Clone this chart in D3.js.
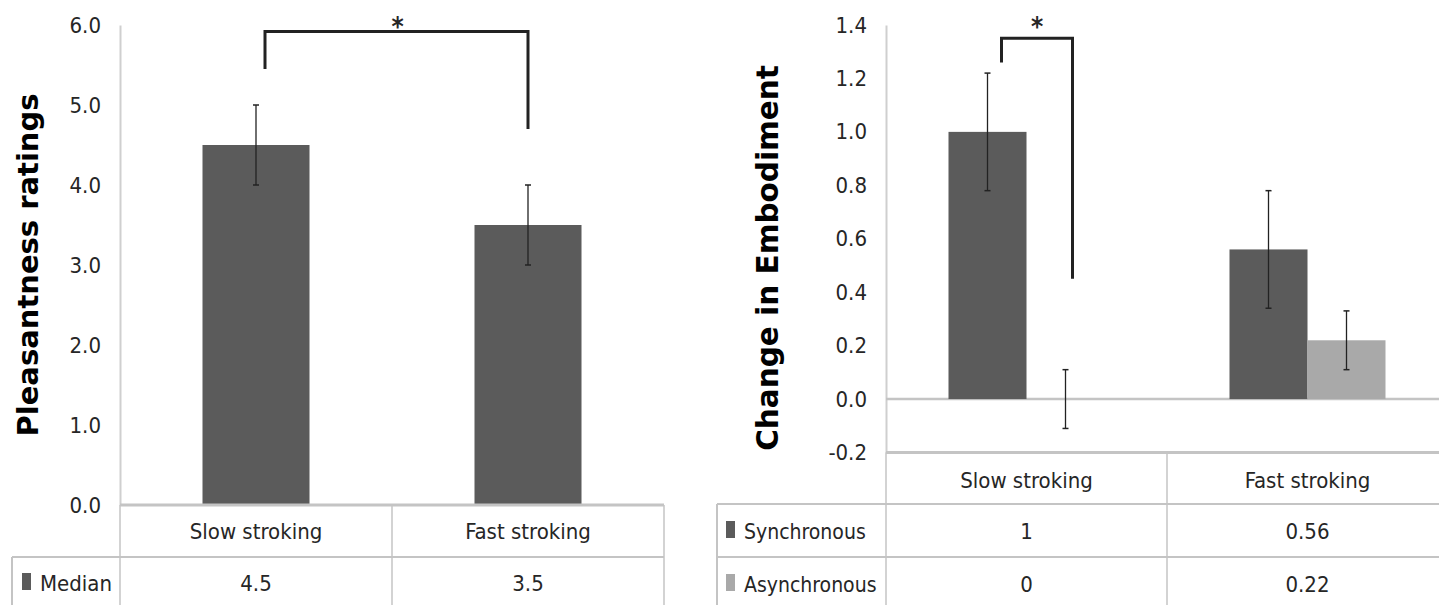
<!DOCTYPE html>
<html>
<head>
<meta charset="UTF-8" />
<script src="https://cdn.jsdelivr.net/npm/d3@7"></script>
<style>
  body { margin: 0; background: #fff; }
  text { font-family: "DejaVu Sans Condensed", sans-serif; fill: #262626; }
  .title { font-family: "DejaVu Sans", sans-serif; font-weight: bold; fill: #000; }
</style>
</head>
<body>
<script>
// ---- data ----
const categories = ["Slow stroking", "Fast stroking"];

// left chart
const medianValues = [4.5, 3.5];
const medianErrLow = [4.0, 3.0];
const medianErrHigh = [5.0, 4.0];
const leftTicks = [0, 1, 2, 3, 4, 5, 6];

// right chart
const seriesNames = ["Synchronous", "Asynchronous"];
const syncValues = [1, 0.56];
const asyncValues = [0, 0.22];
const syncErrLow = [0.78, 0.34];
const syncErrHigh = [1.22, 0.78];
const asyncErrLow = [-0.11, 0.11];
const asyncErrHigh = [0.11, 0.33];
const rightTicks = [-0.2, 0, 0.2, 0.4, 0.6, 0.8, 1.0, 1.2, 1.4];

const dark = "#5b5b5b", light = "#a9a9a9", grid = "#c4c4c4";
const fmt = v => d3.format(".1f")(v).replace("\u2212", "-");

const w = 1439, h = 605;
const svg = d3.select("body").append("svg").attr("width", w).attr("height", h);

// ================= left chart =================
let L = { x0: 120, x1: 664, yTop: 25, yZero: 505 };
let xL = d3.scaleBand().domain(categories).range([L.x0, L.x1]);
let yL = d3.scaleLinear().domain([0, 6]).range([L.yZero, L.yTop]);

let gL = svg.append("g");

// y axis
gL.append("g")
  .attr("transform", `translate(${L.x0},0)`)
  .call(d3.axisLeft(yL).tickValues(leftTicks).tickFormat(fmt).tickSize(0).tickPadding(19))
  .call(g => g.select(".domain").attr("stroke", "#cfcfcf").attr("stroke-width", 2))
  .call(g => g.selectAll("text").attr("font-size", 22).attr("fill", "#333")
    .style("font-family", '"DejaVu Sans Condensed", sans-serif'));

// bars
let bw = 107;
gL.selectAll(".bar").data(categories).enter().append("rect")
  .attr("x", d => xL(d) + xL.bandwidth() / 2 - bw / 2)
  .attr("y", (d, i) => yL(medianValues[i]))
  .attr("width", bw)
  .attr("height", (d, i) => yL(0) - yL(medianValues[i]))
  .attr("fill", dark);

// error bars
categories.forEach((c, i) => {
  let cx = xL(c) + xL.bandwidth() / 2;
  gL.append("line").attr("x1", cx).attr("x2", cx)
    .attr("y1", yL(medianErrLow[i])).attr("y2", yL(medianErrHigh[i]))
    .attr("stroke", "#222").attr("stroke-width", 1.3);
  [medianErrLow[i], medianErrHigh[i]].forEach(v => {
    gL.append("line").attr("x1", cx - 3).attr("x2", cx + 3)
      .attr("y1", yL(v)).attr("y2", yL(v)).attr("stroke", "#222").attr("stroke-width", 1.5);
  });
});

// significance bracket
let bx1 = xL(categories[0]) + xL.bandwidth() / 2 + 9;
let bx2 = xL(categories[1]) + xL.bandwidth() / 2;
gL.append("path")
  .attr("d", `M${bx1},${yL(5.45)} V${yL(5.92)} H${bx2} V${yL(4.7)}`)
  .attr("fill", "none").attr("stroke", "#222").attr("stroke-width", 3);
gL.append("text").attr("x", (bx1 + bx2) / 2 + 1).attr("y", 36)
  .attr("text-anchor", "middle").attr("font-size", 26).attr("font-weight", "bold").text("*");

// y title
gL.append("text").attr("class", "title")
  .attr("transform", `translate(38,265) rotate(-90)`)
  .attr("text-anchor", "middle").attr("font-size", 29).text("Pleasantness ratings");

// data table
let tL = gL.append("g");
tL.append("line").attr("x1", L.x0).attr("x2", L.x1).attr("y1", L.yZero).attr("y2", L.yZero)
  .attr("stroke", grid).attr("stroke-width", 3);
tL.append("line").attr("x1", 12).attr("x2", L.x1).attr("y1", 557).attr("y2", 557)
  .attr("stroke", grid).attr("stroke-width", 2);
tL.append("line").attr("x1", 12).attr("x2", 12).attr("y1", 557).attr("y2", h)
  .attr("stroke", grid).attr("stroke-width", 2);
[L.x0, xL(categories[1]), L.x1].forEach(x => {
  tL.append("line").attr("x1", x).attr("x2", x).attr("y1", L.yZero).attr("y2", h)
    .attr("stroke", grid).attr("stroke-width", 1.5);
});
categories.forEach((c, i) => {
  let cx = xL(c) + xL.bandwidth() / 2;
  tL.append("text").attr("x", cx).attr("y", 539).attr("text-anchor", "middle").attr("font-size", 22).text(c);
  tL.append("text").attr("x", cx).attr("y", 591).attr("text-anchor", "middle").attr("font-size", 22).text(medianValues[i]);
});
tL.append("rect").attr("x", 22).attr("y", 573).attr("width", 9).attr("height", 17).attr("fill", dark);
tL.append("text").attr("x", 40).attr("y", 591).attr("font-size", 22).text("Median");

// ================= right chart =================
let R = { x0: 886, x1: 1448, yTop: 25 };
let xR = d3.scaleBand().domain(categories).range([R.x0, R.x1]);
let yR = d3.scaleLinear().domain([-0.2, 1.4]).range([452.5, R.yTop]);
let xSub = d3.scaleBand().domain(seriesNames).range([0, 156]);
let subOff = (xR.bandwidth() - 156) / 2;

let gR = svg.append("g");
gR.append("g")
  .attr("transform", `translate(${R.x0},0)`)
  .call(d3.axisLeft(yR).tickValues(rightTicks).tickFormat(fmt).tickSize(0).tickPadding(19))
  .call(g => g.select(".domain").attr("stroke", "#cfcfcf").attr("stroke-width", 2))
  .call(g => g.selectAll("text").attr("font-size", 22).attr("fill", "#333")
    .style("font-family", '"DejaVu Sans Condensed", sans-serif'));

// zero line
gR.append("line").attr("x1", R.x0).attr("x2", R.x1).attr("y1", yR(0)).attr("y2", yR(0))
  .attr("stroke", grid).attr("stroke-width", 2.5);

let rows = [
  { name: seriesNames[0], vals: syncValues, lo: syncErrLow, hi: syncErrHigh, color: dark },
  { name: seriesNames[1], vals: asyncValues, lo: asyncErrLow, hi: asyncErrHigh, color: light }
];

rows.forEach(s => {
  gR.selectAll(null).data(categories).enter().append("rect")
    .attr("x", d => xR(d) + subOff + xSub(s.name))
    .attr("y", (d, i) => yR(Math.max(0, s.vals[i])))
    .attr("width", xSub.bandwidth())
    .attr("height", (d, i) => Math.abs(yR(0) - yR(s.vals[i])))
    .attr("fill", s.color);
});
rows.forEach(s => {
  categories.forEach((c, i) => {
    let cx = xR(c) + subOff + xSub(s.name) + xSub.bandwidth() / 2;
    gR.append("line").attr("x1", cx).attr("x2", cx)
      .attr("y1", yR(s.lo[i])).attr("y2", yR(s.hi[i]))
      .attr("stroke", "#222").attr("stroke-width", 1.3);
    [s.lo[i], s.hi[i]].forEach(v => {
      gR.append("line").attr("x1", cx - 3).attr("x2", cx + 3)
        .attr("y1", yR(v)).attr("y2", yR(v)).attr("stroke", "#222").attr("stroke-width", 1.5);
    });
  });
});

// significance bracket
let rb1 = xR(categories[0]) + subOff + xSub(seriesNames[0]) + 53;
let rb2 = rb1 + 71;
gR.append("path")
  .attr("d", `M${rb1},${yR(1.26)} V${yR(1.35)} H${rb2} V${yR(0.45)}`)
  .attr("fill", "none").attr("stroke", "#222").attr("stroke-width", 3);
gR.append("text").attr("x", (rb1 + rb2) / 2).attr("y", 36)
  .attr("text-anchor", "middle").attr("font-size", 26).attr("font-weight", "bold").text("*");

// y title
gR.append("text").attr("class", "title")
  .attr("transform", `translate(778,258) rotate(-90)`)
  .attr("text-anchor", "middle").attr("font-size", 29.5).text("Change in Embodiment");

// data table
let tR = gR.append("g");
tR.append("line").attr("x1", R.x0).attr("x2", R.x1).attr("y1", yR(-0.2)).attr("y2", yR(-0.2))
  .attr("stroke", grid).attr("stroke-width", 3);
[504, 557].forEach(y => {
  tR.append("line").attr("x1", 717).attr("x2", R.x1).attr("y1", y).attr("y2", y)
    .attr("stroke", grid).attr("stroke-width", 2);
});
tR.append("line").attr("x1", 717).attr("x2", 717).attr("y1", 504).attr("y2", h)
  .attr("stroke", grid).attr("stroke-width", 2);
[R.x0, xR(categories[1])].forEach(x => {
  tR.append("line").attr("x1", x).attr("x2", x).attr("y1", yR(-0.2)).attr("y2", h)
    .attr("stroke", grid).attr("stroke-width", 1.5);
});
categories.forEach((c, i) => {
  let cx = xR(c) + xR.bandwidth() / 2;
  tR.append("text").attr("x", cx).attr("y", 488).attr("text-anchor", "middle").attr("font-size", 22).text(c);
  rows.forEach((s, j) => {
    tR.append("text").attr("x", cx).attr("y", 539 + j * 53).attr("text-anchor", "middle")
      .attr("font-size", 22).text(s.vals[i]);
  });
});
rows.forEach((s, j) => {
  tR.append("rect").attr("x", 726).attr("y", 521 + j * 53).attr("width", 9).attr("height", 17).attr("fill", s.color);
  tR.append("text").attr("x", 744).attr("y", 539 + j * 53).attr("font-size", 21).text(s.name);
});
</script>
</body>
</html>
